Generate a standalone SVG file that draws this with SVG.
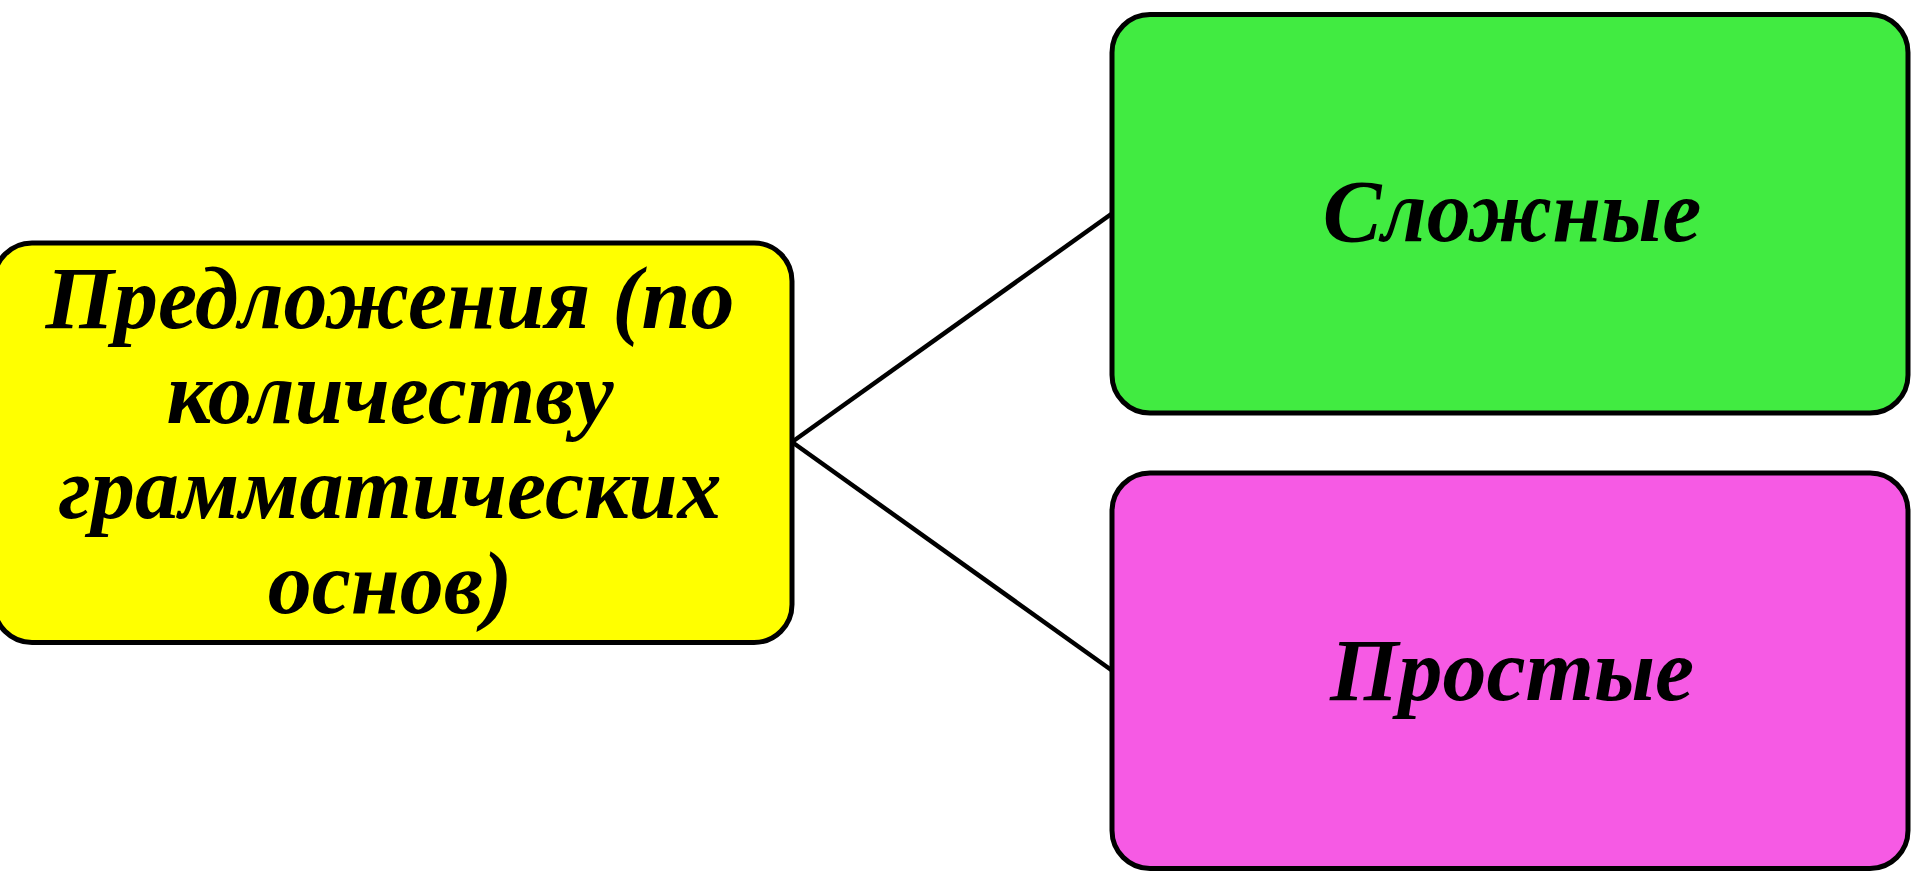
<svg xmlns="http://www.w3.org/2000/svg" width="1911" height="873" viewBox="0 0 1911 873">
<style>
.box{stroke:#000;stroke-width:5}
.lbl{font-family:"Liberation Serif","Times New Roman",serif;font-weight:bold;font-style:italic;font-size:88px;fill:#000;text-anchor:middle}
.conn{stroke:#000;stroke-width:4.5;fill:none}
</style>
<rect width="1911" height="873" fill="#fff"/>
<g id="connectors">
<line class="conn" x1="792" y1="442" x2="1112" y2="213.5"/>
<line class="conn" x1="792" y1="442" x2="1112" y2="670.5"/>
</g>
<g id="node-main">
<rect class="box" x="-6" y="243" width="798" height="399.5" rx="38" fill="#FFFF00"/>
<text class="lbl" x="390" y="328">Предложения (по</text>
<text class="lbl" x="390" y="423">количеству</text>
<text class="lbl" x="390" y="518">грамматических</text>
<text class="lbl" x="390" y="613">основ)</text>
</g>
<g id="node-complex">
<rect class="box" x="1112" y="14.5" width="796" height="398.5" rx="38" fill="#41EB41"/>
<text class="lbl" x="1512" y="241">Сложные</text>
</g>
<g id="node-simple">
<rect class="box" x="1112" y="473" width="796" height="395.5" rx="38" fill="#F65AE4"/>
<text class="lbl" x="1512" y="700">Простые</text>
</g>
</svg>
